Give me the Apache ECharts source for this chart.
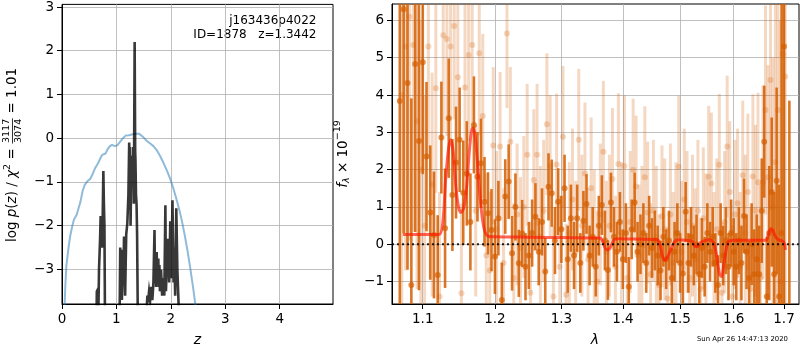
<!DOCTYPE html>
<html><head><meta charset="utf-8">
<script src="https://cdn.jsdelivr.net/npm/echarts@6/dist/echarts.min.js"></script>
<style>html,body{margin:0;padding:0;background:#fff}#c{width:800px;height:350px}</style>
</head><body><div id="c"></div>
<script>
// ---------- Left panel: log p(z) ----------
const priorZ = [0.03,0.06,0.08,0.12,0.15,0.19,0.22,0.27,0.30,0.34,0.38,0.42,0.47,0.52,0.57,0.61,0.66,0.70,0.74,0.80,0.84,0.88,0.92,0.97,1.02,1.07,1.12,1.17,1.23,1.30,1.36,1.42,1.48,1.55,1.62,1.68,1.74,1.80,1.86,1.92,1.98,2.04,2.10,2.16,2.21,2.26,2.31,2.36,2.41,2.45,2.48];
const priorLog = [-4.5,-3.4,-2.92,-2.5,-2.24,-2.0,-1.86,-1.75,-1.62,-1.45,-1.2,-1.06,-0.98,-0.93,-0.8,-0.68,-0.58,-0.47,-0.38,-0.35,-0.25,-0.18,-0.15,-0.18,-0.16,-0.08,0.0,0.06,0.07,0.09,0.1,0.1,0.04,-0.05,-0.12,-0.18,-0.27,-0.4,-0.55,-0.72,-0.9,-1.12,-1.38,-1.66,-1.93,-2.25,-2.6,-3.0,-3.42,-3.8,-4.2];
const pzZ = [0.55,0.63,0.64,0.66,0.67,0.68,0.70,0.71,0.72,0.73,0.74,0.75,0.76,0.77,0.78,0.79,0.82,
  1.03,1.07,1.08,1.09,1.10,1.11,1.12,1.13,1.14,1.15,1.16,1.18,1.20,1.22,1.235,1.245,1.25,1.26,1.27,1.28,1.29,1.30,1.31,1.32,1.335,1.345,1.35,1.36,1.37,1.38,1.42,
  1.52,1.56,1.57,1.58,1.60,1.62,1.64,1.66,1.68,1.70,1.71,1.72,1.73,1.74,1.75,1.77,1.78,1.79,1.80,1.82,1.84,1.86,1.88,1.90,1.91,1.93,1.95,1.97,1.99,2.01,2.03,2.05,2.06,2.08,2.10,2.12,2.14,2.16,2.20];
const pzLog = [-8,-4.5,-3.5,-3.45,-3.9,-3.0,-2.3,-1.78,-2.5,-2.2,-2.5,-1.6,-0.75,-1.5,-2.0,-4.2,-8,
  -8,-2.5,-3.0,-2.55,-3.7,-3.3,-2.7,-3.0,-2.25,-2.8,-3.6,-2.2,-1.95,-1.3,-0.1,-1.2,-0.2,-2.0,-1.0,-0.4,-0.7,-1.0,-0.2,-1.5,2.2,-0.3,-0.5,-1.3,-1.5,-2.2,-8,
  -8,-3.8,-3.6,-3.75,-3.5,-3.7,-3.4,-3.7,-3.3,-2.1,-3.3,-2.9,-3.4,-2.6,-3.3,-2.75,-3.4,-2.9,-3.5,-3.0,-3.6,-3.2,-3.6,-1.53,-3.5,-2.8,-2.3,-3.3,-1.9,-3.2,-1.42,-3.3,-2.5,-3.6,-1.6,-3.0,-3.7,-4.5,-8];
const leftXTicks = [0,1,2,3,4];
const leftYTicks = [-3,-2,-1,0,1,2,3];

// ---------- Right panel: spectrum ----------
const darkWave = [1.070,1.075,1.080,1.085,1.090,1.095,1.100,1.105,1.110,1.115,1.120,1.125,1.130,1.135,1.140,1.145,1.150,1.155,1.160,1.165,1.170,1.175,1.180,1.185,1.190,1.195,1.200,1.205,1.210,1.215,1.220,1.225,1.230,1.235,1.240,1.245,1.250,1.255,1.260,1.265,1.270,1.275,1.280,1.285,1.290,1.295,1.300,1.305,1.310,1.315,1.320,1.325,1.330,1.335,1.340,1.345,1.350,1.355,1.360,1.365,1.370,1.375,1.380,1.385,1.390,1.395,1.400,1.405,1.410,1.415,1.420,1.425,1.430,1.435,1.440,1.445,1.450,1.455,1.460,1.465,1.470,1.475,1.480,1.485,1.490,1.495,1.500,1.505,1.510,1.515,1.520,1.525,1.530,1.535,1.540,1.545,1.550,1.555,1.560,1.565,1.570,1.575,1.580,1.585,1.590,1.595,1.600,1.605,1.610,1.615,1.620,1.625,1.630,1.635,1.640,1.645,1.650,1.655,1.660,1.665,1.670,1.675,1.680,1.685,1.690,1.695,1.700,1.711];
const darkFlux = [3.84,6.3,4.32,-1.09,4.83,2.77,4.88,2.35,0.85,0.25,-0.82,2.86,0.43,3.38,1.32,2.19,2.8,1.38,1.9,0.6,3.2,1.81,2.17,1.14,0.83,0.38,-0.33,0.7,-1.49,1.28,1.68,-0.24,1.0,-0.51,0.29,-0.6,-0.3,0.3,0.74,-0.2,0.6,-0.73,1.54,1.37,0.1,1.14,0.4,1.5,-0.4,0.7,-0.3,0.7,-0.5,0.63,1.08,-0.3,0.2,-0.6,0.5,1.05,0.1,-0.69,1.12,0.2,-0.2,0.6,-0.4,0.3,-1.14,0.4,1.12,-0.2,0.0,0.3,-0.5,0.5,-0.1,0.1,-0.3,-0.7,0.2,-0.4,0.1,-0.9,-0.2,0.3,-0.5,-0.78,0.87,-0.5,0.2,-0.3,0.0,-0.8,-0.1,-0.6,0.3,-0.2,0.2,-0.5,-1.09,0.3,-0.3,0.1,-0.6,0.3,-0.2,-0.6,0.1,-0.5,0.76,-0.2,-0.9,0.0,-0.8,-0.4,-0.8,0.9,2.75,-1.4,0.3,1.4,-0.8,1.7,-1.4,0.3,5.3,-1.9];
const darkErr = [6,6,5,5,4.5,4,3,2,1.8,1.7,1.6,1.5,1.6,1.6,1.5,1.5,1.4,1.4,1.4,1.3,1.3,1.2,1.2,1.2,1.1,1.1,1.0,1.0,1.0,1.0,1.0,1.0,0.9,0.9,0.9,0.9,0.9,0.9,0.9,0.9,0.9,0.9,0.9,0.9,0.9,0.9,0.9,0.9,0.9,0.9,0.9,0.9,0.8,0.8,0.8,0.8,0.8,0.8,0.8,0.8,0.8,0.8,0.8,0.8,0.8,0.8,0.8,0.8,0.8,0.8,0.8,0.8,0.8,0.8,0.8,0.8,0.8,0.8,0.8,0.8,0.8,0.8,0.8,0.8,0.8,0.8,0.8,0.8,0.8,0.8,0.8,0.8,0.8,0.8,0.8,0.8,0.8,0.8,0.8,0.8,0.8,0.8,0.8,0.9,0.9,0.9,0.9,0.9,0.9,1.0,1.0,1.0,1.0,1.1,1.2,1.2,1.3,1.4,1.5,1.6,1.8,2.0,2.2,2.5,3.0,8,8,5.75];

const lightWave = [1.0725,1.0775,1.0825,1.0875,1.0925,1.0975,1.1025,1.1075,1.1125,1.1175,1.1225,1.1275,1.1325,1.1375,1.1425,1.1475,1.1525,1.1575,1.1625,1.1675,1.1725,1.1775,1.1825,1.1875,1.1925,1.1975,1.2025,1.2075,1.2125,1.2175,1.2225,1.2275,1.2325,1.2375,1.2425,1.2475,1.2525,1.2575,1.2625,1.2675,1.2725,1.2775,1.2825,1.2875,1.2925,1.2975,1.3025,1.3075,1.3125,1.3175,1.3225,1.3275,1.3325,1.3375,1.3425,1.3475,1.3525,1.3575,1.3625,1.3675,1.3725,1.3775,1.3825,1.3875,1.3925,1.3975,1.4025,1.4075,1.4125,1.4175,1.4225,1.4275,1.4325,1.4375,1.4425,1.4475,1.4525,1.4575,1.4625,1.4675,1.4725,1.4775,1.4825,1.4875,1.4925,1.4975,1.5025,1.5075,1.5125,1.5175,1.5225,1.5275,1.5325,1.5375,1.5425,1.5475,1.5525,1.5575,1.5625,1.5675,1.5725,1.5775,1.5825,1.5875,1.5925,1.5975,1.6025,1.6075,1.6125,1.6175,1.6225,1.6275,1.6325,1.6375,1.6425,1.6475,1.6525,1.6575,1.6625,1.6675,1.6725,1.6775,1.6825,1.6875,1.6925,1.6975,1.7025];
const lightFlux = [4.0,5.3,6.1,5.34,3.3,2.0,0.5,5.3,1.6,4.18,-1.4,5.6,5.5,5.3,5.85,4.48,-1.31,4.2,5.07,5.34,0.9,5.12,3.44,-0.3,-0.7,2.65,0.4,2.62,-0.5,5.65,2.75,-0.9,0.8,-0.1,1.0,2.4,-1.3,1.72,2.4,0.2,0.9,3.22,2.1,-1.4,2.14,-0.6,2.88,-1.35,0.3,1.2,-0.2,2.8,0.5,1.9,-0.4,1.5,0.1,-1.0,0.8,2.48,-0.2,0.5,1.75,-0.6,2.15,0.3,2.1,-0.9,0.6,2.0,1.55,-0.3,0.2,1.8,0.85,-0.8,0.9,0.2,-1.1,0.75,0.4,-1.45,0.8,-0.5,0.3,2.08,-0.2,1.2,0.6,-0.9,0.5,-0.4,0.9,-1.2,0.7,0.0,1.81,1.63,-0.5,0.4,2.13,-1.3,0.6,2.62,1.4,-1.4,0.8,1.1,-0.6,1.85,0.3,1.4,-1.2,1.82,0.9,1.66,-0.9,1.66,3.6,1.8,4.4,1.0,2.2,3.6,-1.0,5.1,4.5];
const lightErr = [6,6,6,5,4.5,4,3.5,3,3,2.8,2.8,2.6,2.6,2.5,2.5,2.5,2.4,2.4,2.3,2.3,2.3,2.2,2.2,2.2,2.1,2.1,2.1,2.0,2.0,2.0,2.0,2.0,1.9,1.9,1.9,1.9,1.9,1.9,1.9,1.9,1.9,1.9,1.9,1.9,1.9,1.9,1.9,1.9,1.9,1.9,1.9,1.9,1.9,1.9,1.9,1.9,1.9,1.9,1.9,1.9,1.9,1.9,1.9,1.9,1.9,1.9,1.9,1.9,1.9,1.9,1.9,1.9,1.9,1.9,1.9,1.9,1.9,1.9,1.9,1.9,1.9,1.9,1.9,1.9,1.9,1.9,1.9,1.9,1.9,1.9,1.9,1.9,1.9,1.9,1.9,1.9,1.9,1.9,1.9,1.9,1.9,1.9,1.9,1.9,1.9,1.9,2.0,2.0,2.0,2.0,2.1,2.1,2.2,2.2,2.3,2.4,2.5,2.6,2.8,3.0,3.5,4,5,6,7,8,8];

const modelWave = [1.074,1.100,1.122,1.127,1.131,1.135,1.138,1.141,1.145,1.149,1.152,1.156,1.160,1.164,1.168,1.171,1.175,1.179,1.184,1.190,1.200,1.250,1.300,1.362,1.367,1.371,1.375,1.380,1.385,1.392,1.420,1.458,1.463,1.468,1.472,1.477,1.483,1.489,1.496,1.515,1.522,1.527,1.532,1.538,1.545,1.552,1.558,1.563,1.568,1.573,1.577,1.581,1.586,1.590,1.600,1.663,1.668,1.673,1.677,1.682,1.688,1.695,1.700,1.703];
const modelFlux = [0.26,0.26,0.26,0.6,1.8,2.6,2.8,2.5,1.5,0.95,0.85,1.0,1.6,2.6,3.12,3.0,2.2,1.2,0.45,0.22,0.2,0.19,0.18,0.17,0.05,-0.12,-0.15,-0.05,0.12,0.15,0.14,0.13,0.05,-0.3,-0.43,-0.35,-0.15,0.05,0.12,0.1,0.08,-0.05,-0.06,0.05,0.1,0.12,0.1,0.0,-0.35,-0.8,-0.86,-0.55,-0.1,0.08,0.11,0.11,0.25,0.42,0.38,0.22,0.12,0.1,0.05,-0.15];
const rightXTicks = [1.1,1.2,1.3,1.4,1.5,1.6,1.7];
const rightYTicks = [-1,0,1,2,3,4,5,6];

// ---------- Chart ----------
const FONT = 'DejaVu Sans';
const GRID_C = '#b0b0b0';
const ORANGE_D = 'rgba(213,94,0,0.85)';
const ORANGE_LB = 'rgba(213,94,0,0.24)';
const ORANGE_LM = 'rgba(213,94,0,0.3)';

function zip2(a, b){ return a.map((v,i)=>[v, b[i]]); }
function zip3(a, b, c){ return a.map((v,i)=>[v, b[i], c[i]]); }

function errRender(w, color){
  return function(params, api){
    const x = api.value(0), v = api.value(1), e = api.value(2);
    const p1 = api.coord([x, v + e]);
    const p2 = api.coord([x, v - e]);
    const cs = params.coordSys;
    const r = echarts.graphic.clipRectByRect(
      {x: p1[0] - w/2, y: p1[1], width: w, height: p2[1] - p1[1]},
      {x: cs.x, y: cs.y, width: cs.width, height: cs.height});
    if (!r) return;
    return {type: 'rect', shape: r, style: {fill: color}};
  };
}

function axisCommon(ticks, fmt){
  return {
    axisLine: {show: true, onZero: false, lineStyle: {color: '#000', width: 1}},
    axisTick: {show: true, inside: false, length: 5, lineStyle: {color: '#000', width: 1}, customValues: ticks},
    axisLabel: {show: true, color: '#000', fontSize: 13.5, fontFamily: FONT, margin: 8, customValues: ticks, formatter: fmt},
    splitLine: {show: true, lineStyle: {color: GRID_C, width: 0.8}}
  };
}
const fmtInt = v => (v < 0 ? '\u2212' + Math.abs(Math.round(v)) : String(Math.round(v)));
const fmt1 = v => v.toFixed(1);

const mctx = document.createElement('canvas').getContext('2d');
function tw(s, size, italic){ mctx.font = (italic ? 'italic ' : '') + size + 'px "' + FONT + '"'; return mctx.measureText(s).width; }

function buildLabel(pieces, cx, cy){
  let total = 0;
  pieces.forEach(p => { p.w = p.frac ? Math.max(tw(p.frac[0], p.size), tw(p.frac[1], p.size)) + 2 : tw(p.t, p.size, p.it); total += p.w; });
  let x = -total/2;
  const children = [];
  pieces.forEach(p => {
    if (p.frac) {
      children.push({type:'text', x: x + p.w/2, y: -5.5, style:{text:p.frac[0], fontSize:p.size, fontFamily:FONT, fill:'#000', align:'center', verticalAlign:'middle'}});
      children.push({type:'text', x: x + p.w/2, y: 5.8, style:{text:p.frac[1], fontSize:p.size, fontFamily:FONT, fill:'#000', align:'center', verticalAlign:'middle'}});
      children.push({type:'line', shape:{x1:x+0.5, y1:0, x2:x+p.w-0.5, y2:0}, style:{stroke:'#000', lineWidth:0.8}});
    } else {
      children.push({type:'text', x: x, y: p.dy || 0, style:{text:p.t, fontSize:p.size, fontStyle: p.it ? 'italic' : 'normal', fontFamily:FONT, fill:'#000', align:'left', verticalAlign:'middle'}});
    }
    x += p.w;
  });
  return {type:'group', x: cx, y: cy, rotation: Math.PI/2, children: children};
}

const leftName = buildLabel([
  {t:'log ', size:13.5},
  {t:'p', size:13.5, it:true},
  {t:'(', size:13.5},
  {t:'z', size:13.5, it:true},
  {t:') / ', size:13.5},
  {t:'\u03c7', size:13.5, it:true},
  {t:'2', size:9.5, dy:-5},
  {t:' = ', size:13.5},
  {frac:['3117','3074'], size:9.5},
  {t:' = 1.01', size:13.5}
], 12.5, 155);

const rightName = buildLabel([
  {t:'f', size:13.5, it:true},
  {t:'\u03bb', size:9.5, it:true, dy:3.5},
  {t:' \u00d7 10', size:13.5},
  {t:'\u221219', size:9.5, dy:-5.5}
], 343, 154);

const option = {
  animation: false,
  backgroundColor: '#fff',
  grid: [
    {left: 62, top: 4, width: 271, height: 300, show: true, borderColor: '#000', borderWidth: 1, backgroundColor: 'transparent'},
    {left: 392, top: 4, width: 407, height: 300, show: true, borderColor: '#000', borderWidth: 1, backgroundColor: 'transparent'}
  ],
  xAxis: [
    Object.assign({type: 'value', gridIndex: 0, min: 0, max: 4.98}, axisCommon(leftXTicks, fmtInt)),
    Object.assign({type: 'log', logBase: 10, gridIndex: 1, min: 1.06, max: 1.731}, axisCommon(rightXTicks, fmt1))
  ],
  yAxis: [
    Object.assign({type: 'value', gridIndex: 0, min: -3.79, max: 3.06}, axisCommon(leftYTicks, fmtInt)),
    Object.assign({type: 'value', gridIndex: 1, min: -1.6, max: 6.44}, axisCommon(rightYTicks, fmtInt))
  ],
  series: [
    {type: 'line', xAxisIndex: 0, yAxisIndex: 0, data: zip2(priorZ, priorLog), showSymbol: false, clip: true,
     lineStyle: {color: 'rgba(31,119,180,0.5)', width: 2}, z: 2},
    {type: 'line', xAxisIndex: 0, yAxisIndex: 0, data: zip2(pzZ, pzLog), showSymbol: false, clip: true,
     lineStyle: {color: 'rgba(0,0,0,0.78)', width: 2.6, join: 'miter'}, z: 3},
    {type: 'custom', xAxisIndex: 1, yAxisIndex: 1, data: zip3(lightWave, lightFlux, lightErr), encode: {x: 0, y: 1},
     renderItem: errRender(3, ORANGE_LB), z: 2},
    {type: 'scatter', xAxisIndex: 1, yAxisIndex: 1, data: zip2(lightWave, lightFlux), symbolSize: 6, clip: true,
     itemStyle: {color: ORANGE_LM}, z: 2},
    {type: 'custom', xAxisIndex: 1, yAxisIndex: 1, data: zip3(darkWave, darkFlux, darkErr), encode: {x: 0, y: 1},
     renderItem: errRender(2.6, ORANGE_D), z: 3},
    {type: 'scatter', xAxisIndex: 1, yAxisIndex: 1, data: zip2(darkWave, darkFlux), symbolSize: 6, clip: true,
     itemStyle: {color: ORANGE_D}, z: 3},
    {type: 'line', xAxisIndex: 1, yAxisIndex: 1, data: zip2(modelWave, modelFlux), showSymbol: false, clip: true, smooth: 0.3,
     lineStyle: {color: 'rgba(255,20,0,0.65)', width: 3}, z: 4},
    {type: 'line', xAxisIndex: 1, yAxisIndex: 1, data: [[1.06, 0], [1.731, 0]], showSymbol: false, clip: true,
     lineStyle: {color: 'rgba(0,0,0,0.85)', width: 2, type: [2, 3]}, z: 5}
  ],
  graphic: [
    leftName, rightName,
    {type:'text', x: 316.5, y: 20.5, style:{text:'j163436p4022', fontSize:12, fontFamily:FONT, fill:'#000', align:'right', verticalAlign:'middle'}},
    {type:'text', x: 316.5, y: 34.5, style:{text:'ID=1878   z=1.3442', fontSize:12, fontFamily:FONT, fill:'#000', align:'right', verticalAlign:'middle'}},
    {type:'text', x: 197.5, y: 340, style:{text:'z', fontSize:14, fontStyle:'italic', fontFamily:FONT, fill:'#000', align:'center', verticalAlign:'middle'}},
    {type:'text', x: 595, y: 340, style:{text:'\u03bb', fontSize:14, fontStyle:'italic', fontFamily:FONT, fill:'#000', align:'center', verticalAlign:'middle'}},
    {type:'text', x: 788, y: 339, style:{text:'Sun Apr 26 14:47:13 2020', fontSize:6.9, fontFamily:FONT, fill:'#000', align:'right', verticalAlign:'middle'}}
  ]
};
const chart = echarts.init(document.getElementById('c'), null, {renderer: 'canvas'});
chart.setOption(option);
</script></body></html>
